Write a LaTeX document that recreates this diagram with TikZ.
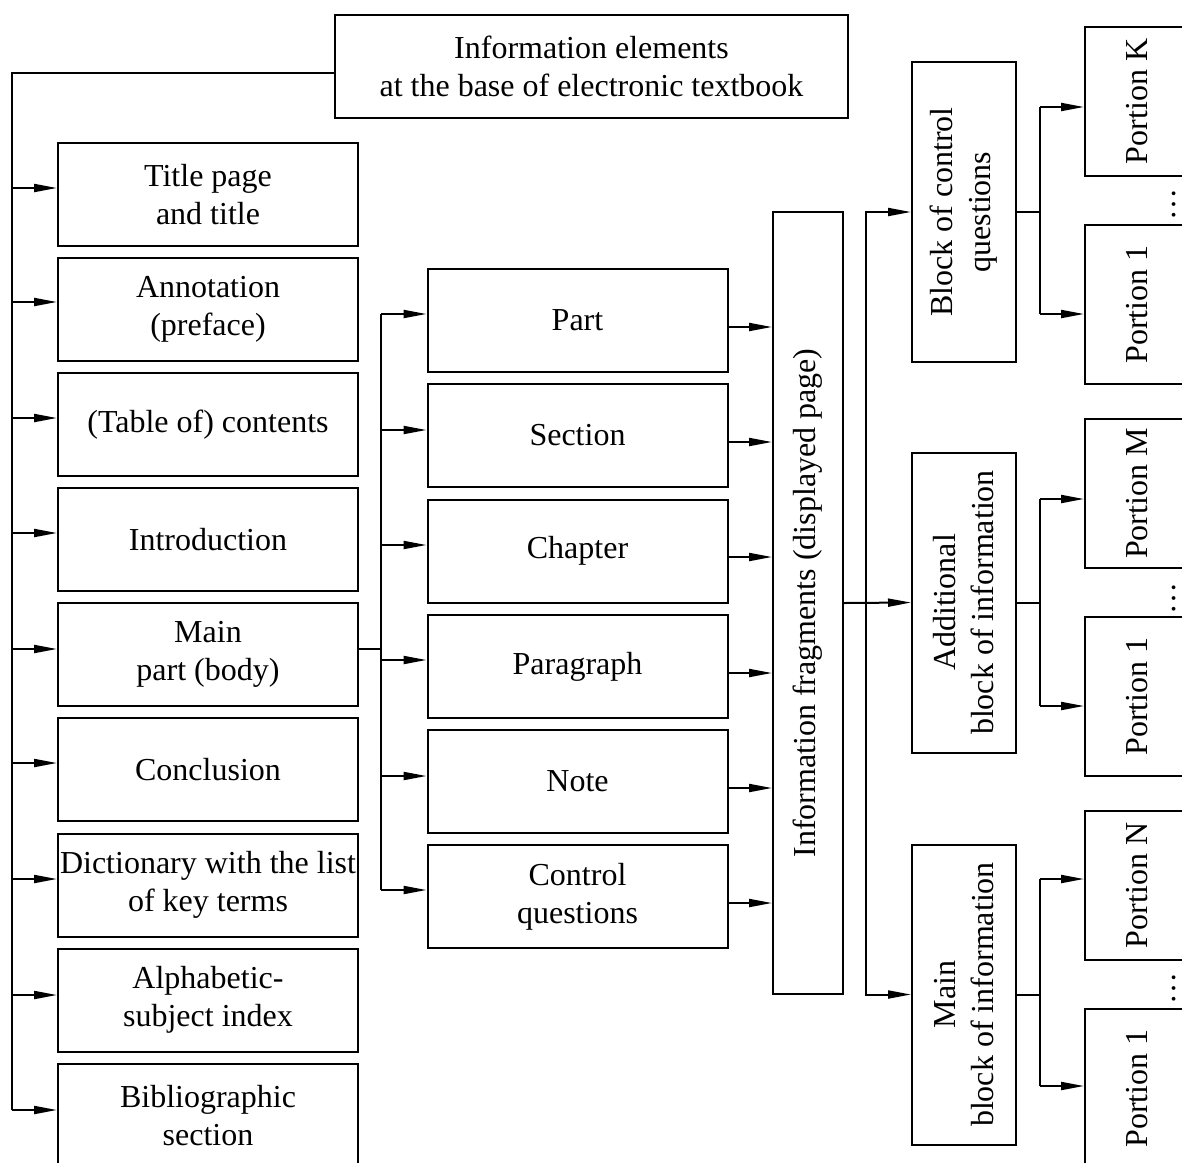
\documentclass[tikz,border=0pt]{standalone}
\usepackage{fontspec}
\setmainfont{Liberation Serif}
\usetikzlibrary{arrows.meta}
\tikzstyle{elem}=[rectangle, draw, line width=1pt, align=center, inner sep=1pt, font=\fontsize{16}{19}\selectfont]
\tikzstyle{side}=[elem, minimum width=150pt, minimum height=51.5pt]
\tikzstyle{blk}=[elem, rotate=90, minimum width=150pt, minimum height=52pt]
\tikzstyle{portion}=[elem, rotate=90, minimum height=52.5pt]
\newcommand{\side}{\node[side]}

\begin{document}
\begin{tikzpicture}[x=0.5pt, y=-0.5pt, line width=1pt
  ,>={Triangle[length=11.5pt,width=4pt]}
]
\useasboundingbox (0,0) rectangle (1182,1162);

\node[elem, minimum width=256.5pt, minimum height=51.5pt] (head) at (591.5,66.5)
  {Information elements\\at the base of electronic textbook};

% left column
\side (title) at (208,194.5) {Title page\\and title};
\side (annot) at (208,309.5) {Annotation\\(preface)};
\side (cont) at (208,424.5) {(Table of) contents};
\side (intro) at (208,539.5) {Introduction};
\side (mainp) at (208,654.5) {Main\\part (body)};
\side (concl) at (208,769.5) {Conclusion};
\side (dict) at (208,885) {Dictionary with the list\\of key terms};
\side (alpha) at (208,1000) {Alphabetic-\\subject index};
\side (bib) at (208,1115.5) {Bibliographic\\section};

% middle column
\side (part) at (577.5,320.5) {Part};
\side (sect) at (577.5,435.5) {Section};
\side (chap) at (577.5,551) {Chapter};
\side (para) at (577.5,666.5) {Paragraph};
\side (note) at (577.5,781.5) {Note};
\side (ctrl) at (577.5,896.5) {Control\\questions};

\node[elem, rotate=90, minimum width=391pt, minimum height=35pt] (frag) at (808,603)
  {Information fragments (displayed page)};

% blocks
\node[blk] (qblock) at (964,212) {Block of control\\questions};
\node[blk] (ablock) at (964,602.5) {Additional\\block of information};
\node[blk] (mblock) at (964,994.5) {Main\\block of information};

% portions
\node[portion, minimum width=74.5pt] (pk) at (1137.5,101.5) {Portion K};
\node[portion, minimum width=79.5pt] (pk1) at (1137.5,304.5) {Portion 1};
\node[portion, minimum width=74.5pt] (pm) at (1137.5,493.5) {Portion M};
\node[portion, minimum width=79.5pt] (pm1) at (1137.5,696.5) {Portion 1};
\node[portion, minimum width=74.5pt] (pn) at (1137.5,885.5) {Portion N};
\node[portion, minimum width=79.5pt] (pn1) at (1137.5,1088.5) {Portion 1};
\foreach \n/\y in {d1/204, d2/598, d3/988}
  \node[rotate=90, inner sep=0pt, font=\fontsize{16}{19}\selectfont] (\n) at (1174,\y) {\dots};

% left trunk
\coordinate (lb) at (12,1110);
\draw ([yshift=-3pt]head.west) -| (lb);
\foreach \n/\y in {title/188, annot/302, cont/418, intro/533, mainp/649,
                   concl/763, dict/879, alpha/995, bib/1110}{
  \coordinate (l\n) at (12,\y);
  \draw[->] (l\n) -- (l\n -| \n.west);
}

% middle trunk
\coordinate (mb) at (381,649);
\draw (mainp.east |- mb) -- (mb);
\foreach \n/\y/\z in {part/314/327, sect/430/442, chap/545/557,
                      para/660/673, note/776/788, ctrl/890/903}{
  \coordinate (m\n) at (381,\y);
  \coordinate (f\n) at (760,\z);
  \draw[->] (m\n) -- (m\n -| \n.west);
  \draw[->] (\n.east |- f\n) -- (f\n -| frag.north);
}
\draw (mpart) -- (mctrl);

% fragments to blocks
\coordinate (ft) at (866,603);
\draw[->] (frag.south) -- (ablock.north);
\draw[->] (ft) |- (qblock.north);
\draw[->] (ft) |- (mblock.north);

% blocks to portions
\foreach \b/\p/\q/\ya/\yb in {qblock/pk/pk1/107/314, ablock/pm/pm1/499/706,
                              mblock/pn/pn1/879/1086}{
  \coordinate (\b1) at (1040,\ya);
  \coordinate (\b2) at (1040,\yb);
  \draw (\b.south) -- (\b.south -| \b1);
  \draw (\b1) -- (\b2);
  \draw[->] (\b1) -- (\b1 -| \p.north);
  \draw[->] (\b2) -- (\b2 -| \q.north);
}
\end{tikzpicture}
\end{document}
